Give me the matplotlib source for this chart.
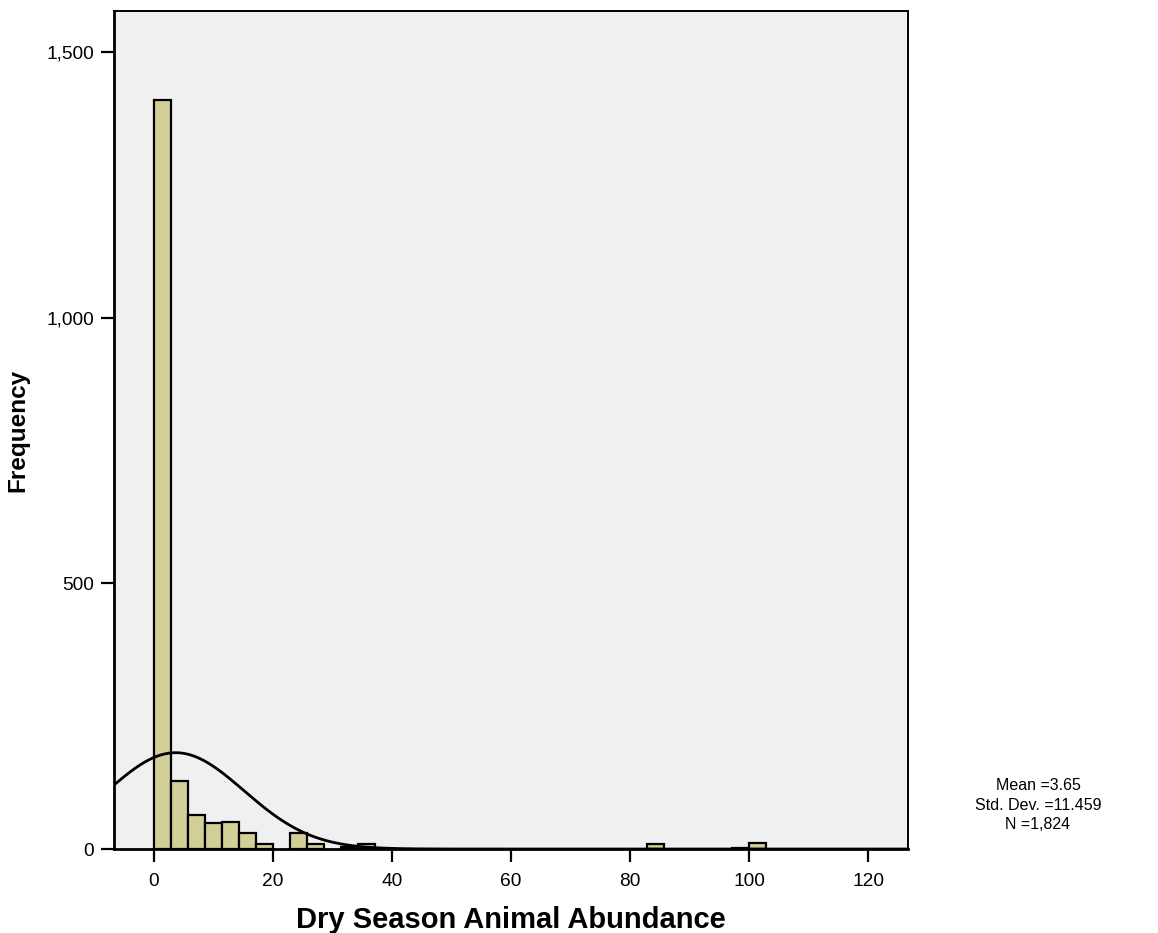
import os
import numpy as np
import matplotlib
matplotlib.use("Agg")
import matplotlib.pyplot as plt
from matplotlib import font_manager
from matplotlib.ticker import FuncFormatter

# Use the regular-width Liberation Sans faces (metric clone of Arial)
def find_font(basename):
    for path in font_manager.findSystemFonts():
        if os.path.basename(path) == basename:
            return path
    return None

regular_path = find_font("LiberationSans-Regular.ttf")
bold_path = find_font("LiberationSans-Bold.ttf")
for p in (regular_path, bold_path):
    if p:
        font_manager.fontManager.addfont(p)

family_name = "Liberation Sans"
if regular_path:
    family_name = font_manager.FontProperties(fname=regular_path).get_name()
plt.rcParams["font.family"] = [family_name, "DejaVu Sans"]

# Histogram of dry season animal abundance
bin_width = 20 / 7
counts = [1411, 129, 64, 49, 51, 30, 10, 0, 30, 10, 0, 4, 10,
          0, 0, 0, 0, 0, 0, 0, 0, 0, 0, 0, 0, 0, 0, 0, 0,
          9, 0, 0, 0, 0, 2, 11]
mean_val = 3.65
std_val = 11.459
n_val = 1824

x_ticks = [0, 20, 40, 60, 80, 100, 120]
y_ticks = [0, 500, 1000, 1500]
x_label = "Dry Season Animal Abundance"
y_label = "Frequency"

fig = plt.figure(figsize=(11.58, 9.33), dpi=100)
ax = fig.add_axes([0.0984, 0.0900, 0.6857, 0.8982])
ax.set_facecolor("#F0F0F0")

edges = np.arange(len(counts)) * bin_width
counts_arr = np.array(counts)
mask = counts_arr > 0
ax.bar(edges[mask], counts_arr[mask], width=bin_width, align="edge",
       color="#D3CF98", edgecolor="black", linewidth=1.6, zorder=2)

xmin, xmax = -6.72, 126.7
ax.set_xlim(xmin, xmax)
ax.set_ylim(0, 1578)

# Normal curve scaled to the histogram
xs = np.linspace(xmin, xmax, 600)
ys = n_val * bin_width / (std_val * np.sqrt(2 * np.pi)) * np.exp(-0.5 * ((xs - mean_val) / std_val) ** 2)
ax.plot(xs, ys, color="black", linewidth=2.0, zorder=3)

ax.set_xticks(x_ticks)
ax.set_yticks(y_ticks)
ax.yaxis.set_major_formatter(FuncFormatter(lambda v, p: f"{int(v):,}"))
ax.tick_params(axis="both", direction="out", length=9.5, width=1.6,
               labelsize=13.8, color="black", pad=5)
ax.tick_params(axis="x", pad=8)

for side in ["left", "bottom"]:
    ax.spines[side].set_linewidth(2.0)
for side in ["top", "right"]:
    ax.spines[side].set_linewidth(1.4)

ax.set_xlabel(x_label, fontsize=21, fontweight="bold", labelpad=11)
ax.set_ylabel(y_label, fontsize=17.5, fontweight="bold", labelpad=12)

stats_text = f"Mean ={mean_val:.2f}\nStd. Dev. ={std_val:.3f}\nN ={n_val:,}"
fig.text(1038 / 1158, 1 - 805 / 933, stats_text, ha="center", va="center",
         fontsize=11.5, linespacing=1.4)

fig.savefig("out.png", dpi=100, facecolor="white")
